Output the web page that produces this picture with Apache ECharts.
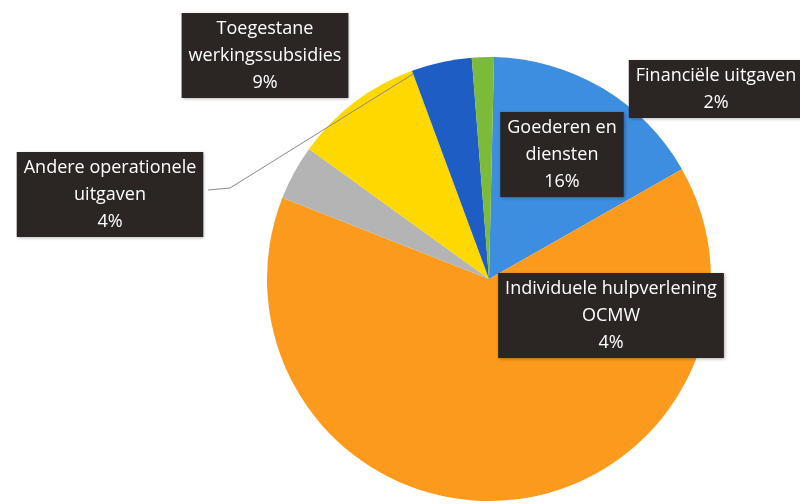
<!DOCTYPE html>
<html>
<head>
<meta charset="utf-8">
<script src="https://cdn.jsdelivr.net/npm/echarts@6/dist/echarts.min.js"></script>
<style>
  html, body { margin: 0; padding: 0; background: #fff; }
  #chart { width: 800px; height: 504px; }
</style>
</head>
<body>
<div id="chart"></div>
<script>
// slices, clockwise from 12 o'clock
const categories = [
  "Goederen en\ndiensten",
  "Personeel",
  "Andere operationele\nuitgaven",
  "Toegestane\nwerkingssubsidies",
  "Individuele hulpverlening\nOCMW",
  "Financiële uitgaven"
];
const shares = [16.4, 64.2, 4.0, 9.4, 4.4, 1.6];
const colors = ["#3d8de0", "#fb9a1c", "#b4b4b4", "#ffd800", "#1e5dc4", "#7cbb3a"];
const showLabel = [true, false, true, true, true, true];

// where each label box sits (center x, top y)
const labelSpots = [
  [562, 112], null, [110, 152], [265, 13], [611, 273], [716, 60]
];

const chart = echarts.init(document.getElementById("chart"));

const option = {
  backgroundColor: "#fff",
  animation: false,
  // leader line of the "Andere operationele uitgaven" box, drawn above the slices
  graphic: [
    {
      type: "polyline",
      z: 100,
      shape: { points: [[413, 74], [230, 188], [208, 190]] },
      style: { stroke: "#8a8a8a", lineWidth: 1, fill: null }
    }
  ],
  series: [
    {
      type: "pie",
      center: [489, 279],
      radius: 222,
      startAngle: 88.7,
      clockwise: true,
      avoidLabelOverlap: false,
      label: {
        show: true,
        position: "outside",
        formatter: (p) => p.name + "\n" + Math.round(p.percent) + "%",
        color: "#fff",
        fontFamily: "Open Sans",
        fontSize: 18,
        lineHeight: 27,
        align: "center",
        backgroundColor: "#2b2624",
        padding: [2, 7, 2, 7],
        shadowColor: "rgba(0,0,0,0.3)",
        shadowBlur: 3,
        shadowOffsetX: 1,
        shadowOffsetY: 1
      },
      labelLine: { show: false },
      labelLayout: (params) => {
        const spot = labelSpots[params.dataIndex];
        if (!spot) return {};
        return { x: spot[0], y: spot[1], align: "center", verticalAlign: "top" };
      },
      data: categories.map((name, i) => ({
        name,
        value: shares[i],
        itemStyle: { color: colors[i], borderWidth: 0 },
        label: { show: showLabel[i] }
      }))
    }
  ]
};

chart.setOption(option);
</script>
</body>
</html>
